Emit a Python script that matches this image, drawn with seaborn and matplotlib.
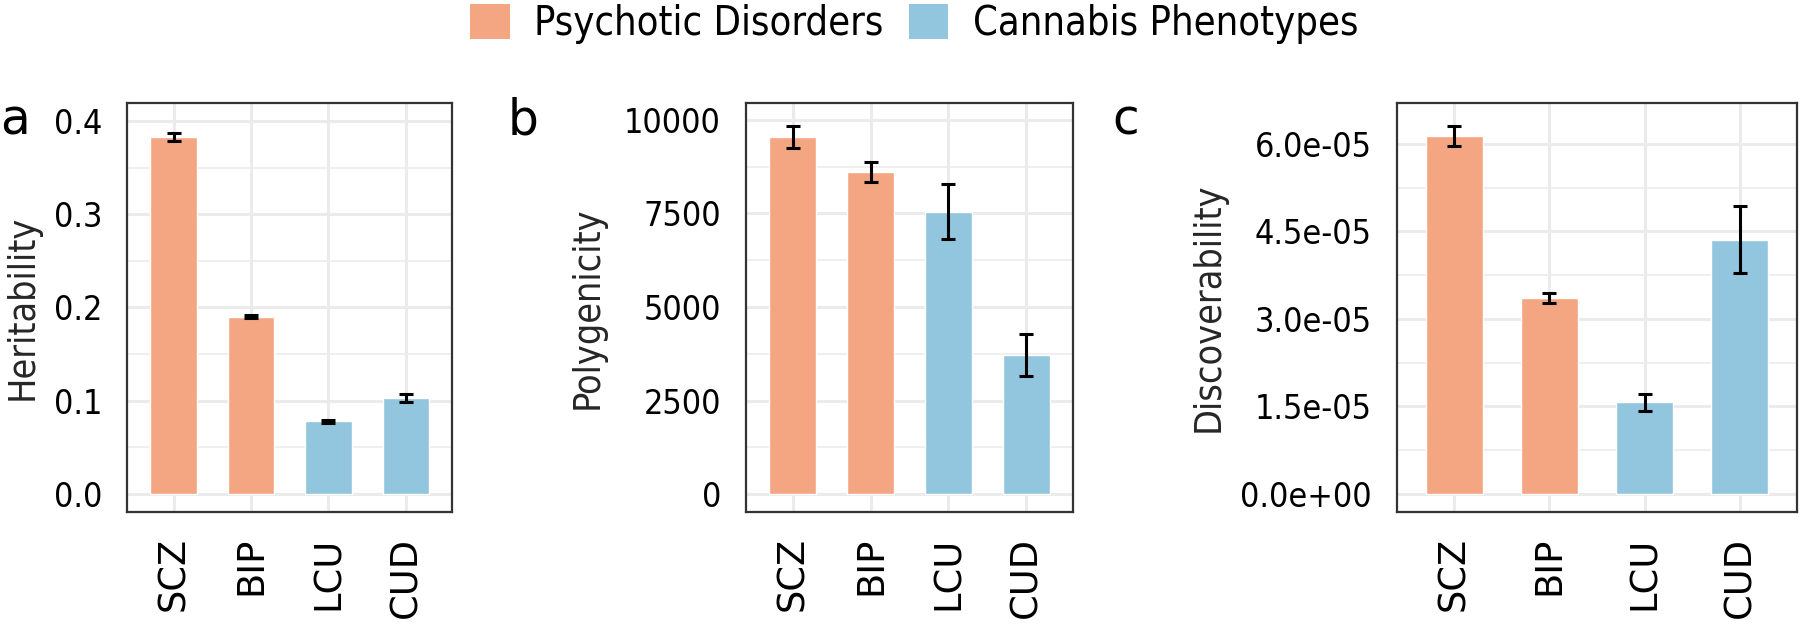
import matplotlib
matplotlib.use("Agg")
import matplotlib.pyplot as plt
import seaborn as sns
import numpy as np
import pandas as pd
from matplotlib.patches import Patch
from matplotlib.ticker import MultipleLocator, AutoMinorLocator, FormatStrFormatter

traits = ["SCZ", "BIP", "LCU", "CUD"]
groups = ["Psychotic Disorders", "Psychotic Disorders", "Cannabis Phenotypes", "Cannabis Phenotypes"]

heritability = [0.383, 0.190, 0.078, 0.103]
heritability_se = [0.0045, 0.0015, 0.0018, 0.0045]

polygenicity = [9540, 8605, 7550, 3710]
polygenicity_se = [290, 270, 730, 565]

discoverability = [6.13e-05, 3.36e-05, 1.57e-05, 4.36e-05]
discoverability_se = [0.17e-05, 0.09e-05, 0.15e-05, 0.57e-05]

palette = {"Psychotic Disorders": "#F4A582", "Cannabis Phenotypes": "#92C5DE"}

sns.set_theme(style="white")
plt.rcParams["font.family"] = ["DejaVu Sans"]
plt.rcParams["font.stretch"] = "condensed"
plt.rcParams["text.color"] = "black"

fig = plt.figure(figsize=(18, 6.26), dpi=100)

panels = [
    ("a", "Heritability", heritability, heritability_se, [0.0706, 0.1821, 0.1806, 0.6534],
     (-0.0193, 0.4193), 0.1, "%.1f", 0.0, -0.265),
    ("b", "Polygenicity", polygenicity, polygenicity_se, [0.4144, 0.1821, 0.1817, 0.6534],
     (-481, 10455), 2500, "%d", 0.282, -0.43),
    ("c", "Discoverability", discoverability, discoverability_se, [0.7761, 0.1821, 0.2222, 0.6534],
     (-0.309e-05, 6.70e-05), 1.5e-05, "%.1e", 0.618, -0.425),
]

for letter, ylab, vals, errs, rect, ylim, step, fmt, lx, labx in panels:
    ax = fig.add_axes(rect)
    df = pd.DataFrame({"trait": traits, "value": vals, "group": groups})
    ax.set_axisbelow(True)
    sns.barplot(data=df, x="trait", y="value", hue="group", palette=palette,
                dodge=False, width=0.6, legend=False, ax=ax, saturation=1)
    ax.errorbar(np.arange(len(traits)), vals, yerr=errs, fmt="none", ecolor="black",
                elinewidth=2.2, capsize=5.3, capthick=2.2, zorder=5)
    ax.set_xlim(-0.6, len(traits) - 0.4)
    ax.set_ylim(*ylim)
    ax.yaxis.set_major_locator(MultipleLocator(step))
    ax.yaxis.set_minor_locator(AutoMinorLocator(2))
    ax.yaxis.set_major_formatter(FormatStrFormatter(fmt))
    ax.grid(True, which="major", color="#EBEBEB", linewidth=2.2)
    ax.grid(True, which="minor", axis="y", color="#EBEBEB", linewidth=1.1)
    for s in ax.spines.values():
        s.set_color("#333333")
        s.set_linewidth(1.6)
    ax.tick_params(axis="both", which="major", length=10, width=2.4, color="#333333",
                   labelcolor="black", pad=8)
    ax.tick_params(axis="y", which="major", labelsize=24.5)
    ax.tick_params(axis="both", which="minor", length=0)
    ax.tick_params(axis="x", labelrotation=90)
    for t in ax.get_xticklabels():
        t.set_va("top")
        t.set_ha("center")
        t.set_fontsize(26.5)
        t.set_fontstretch("normal")
    ax.set_xlabel("")
    ax.set_ylabel(ylab, fontsize=27)
    ax.yaxis.set_label_coords(labx, 0.5)
    fig.text(lx, 0.785, letter, fontsize=35, fontstretch="normal", ha="left", va="baseline")

handles = [Patch(facecolor=palette[g], edgecolor="none") for g in palette]
fig.legend(handles, list(palette), loc="center", bbox_to_anchor=(0.508, 0.962), ncol=2,
           frameon=False, fontsize=28.5, handlelength=1.0, handleheight=1.0,
           handletextpad=0.63, columnspacing=0.63, borderpad=0)

fig.savefig("out.png", dpi=100)
